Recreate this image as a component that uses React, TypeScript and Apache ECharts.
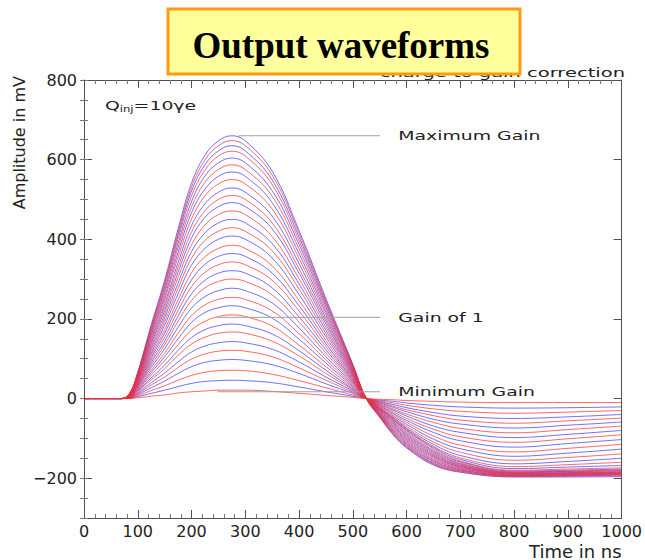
import React, { useEffect, useRef } from "react";
import * as echarts from "echarts";

const W = 645;
const H = 560;

// Sample times (ns) shared by every waveform
const TIMES = [0, 70, 85, 100, 125, 150, 175, 200, 225, 250, 275, 300, 350, 400, 450, 500, 525, 550, 575, 600, 650, 700, 800, 900, 1000];

// Output amplitude (mV) of each gain setting, from minimum gain (first row) to maximum gain (last row)
const WAVEFORMS = [
  [0, 0, 0, 2, 6, 9, 14, 17, 19, 21, 21, 21, 18, 13, 8, 3, 0, -2, -3, -5, -7, -9, -10, -10, -10],
  [0, 0, 1, 5, 13, 21, 30, 38, 43, 45, 46, 45, 40, 29, 17, 6, 0, -4, -7, -11, -17, -21, -24, -23, -21],
  [0, 0, 1, 7, 20, 32, 46, 58, 66, 70, 71, 70, 61, 45, 27, 9, 0, -6, -11, -17, -26, -32, -37, -34, -30],
  [0, 0, 2, 10, 27, 44, 63, 80, 91, 96, 98, 96, 85, 63, 37, 13, 0, -8, -15, -23, -35, -44, -50, -46, -40],
  [0, 0, 2, 12, 34, 54, 78, 99, 112, 119, 121, 119, 105, 77, 46, 16, 0, -9, -19, -28, -43, -54, -62, -56, -49],
  [0, 0, 3, 14, 40, 64, 92, 117, 132, 140, 143, 140, 124, 92, 54, 19, 0, -11, -22, -33, -52, -64, -74, -67, -59],
  [0, 0, 3, 17, 47, 75, 108, 137, 154, 164, 167, 164, 144, 107, 63, 22, 0, -13, -26, -39, -60, -75, -86, -78, -69],
  [0, 0, 4, 19, 52, 84, 121, 153, 173, 183, 187, 183, 162, 120, 71, 24, 0, -15, -29, -44, -69, -85, -98, -90, -80],
  [0, 0, 4, 21, 59, 95, 135, 172, 194, 206, 210, 206, 182, 134, 80, 27, 0, -17, -33, -50, -77, -96, -110, -101, -91],
  [0, 0, 5, 23, 65, 105, 150, 191, 216, 228, 233, 228, 202, 149, 89, 30, 0, -18, -37, -55, -85, -106, -122, -113, -103],
  [0, 0, 5, 25, 71, 114, 164, 208, 235, 249, 254, 249, 220, 163, 97, 33, 0, -20, -40, -60, -94, -117, -134, -125, -115],
  [0, 0, 6, 28, 78, 125, 179, 227, 256, 271, 277, 271, 240, 177, 105, 36, 0, -22, -44, -65, -102, -126, -145, -137, -127],
  [0, 0, 6, 30, 84, 135, 194, 246, 278, 294, 300, 294, 260, 192, 114, 39, 0, -23, -47, -70, -109, -135, -155, -148, -139],
  [0, 0, 6, 32, 90, 144, 207, 263, 297, 315, 321, 315, 278, 205, 122, 42, 0, -25, -49, -74, -115, -143, -164, -158, -150],
  [0, 0, 7, 34, 96, 154, 221, 281, 317, 336, 343, 336, 297, 220, 130, 45, 0, -26, -51, -77, -120, -149, -171, -166, -160],
  [0, 0, 7, 36, 102, 164, 235, 298, 337, 357, 364, 357, 315, 233, 138, 47, 0, -26, -53, -79, -123, -153, -176, -172, -168],
  [0, 0, 8, 39, 108, 173, 248, 316, 356, 377, 385, 377, 333, 246, 146, 50, 0, -27, -54, -81, -126, -157, -180, -177, -174],
  [0, 0, 8, 41, 114, 184, 263, 335, 377, 400, 408, 400, 353, 261, 155, 53, 0, -29, -57, -85, -130, -159, -182, -180, -177],
  [0, 0, 9, 43, 120, 193, 277, 352, 397, 420, 429, 420, 371, 275, 163, 56, 0, -30, -60, -88, -133, -162, -184, -182, -179],
  [0, 0, 9, 45, 126, 203, 290, 369, 416, 441, 450, 441, 389, 288, 171, 59, 0, -32, -62, -91, -136, -164, -185, -183, -181],
  [0, 0, 9, 47, 132, 212, 304, 386, 436, 462, 471, 462, 407, 301, 179, 61, 0, -33, -65, -94, -139, -166, -186, -184, -182],
  [0, 0, 10, 49, 138, 221, 317, 403, 455, 482, 492, 482, 426, 315, 187, 64, 0, -35, -68, -97, -142, -168, -187, -186, -184],
  [0, 0, 10, 51, 143, 230, 329, 418, 472, 500, 510, 500, 441, 326, 194, 66, 0, -36, -70, -100, -144, -170, -188, -187, -185],
  [0, 0, 11, 53, 148, 238, 341, 434, 489, 518, 529, 518, 458, 339, 201, 69, 0, -37, -73, -103, -147, -171, -189, -188, -186],
  [0, 0, 11, 55, 154, 248, 355, 451, 509, 539, 550, 539, 476, 352, 209, 72, 0, -39, -75, -106, -150, -173, -190, -189, -187],
  [0, 0, 11, 57, 159, 256, 367, 467, 526, 558, 569, 558, 492, 364, 216, 74, 0, -40, -78, -109, -153, -175, -191, -190, -188],
  [0, 0, 12, 59, 164, 264, 379, 481, 543, 575, 587, 575, 508, 376, 223, 76, 0, -42, -80, -112, -156, -177, -192, -191, -189],
  [0, 0, 12, 60, 169, 272, 390, 495, 559, 592, 604, 592, 522, 387, 230, 79, 0, -43, -82, -115, -158, -179, -193, -192, -190],
  [0, 0, 12, 62, 174, 279, 401, 509, 574, 609, 621, 609, 537, 397, 236, 81, 0, -44, -85, -117, -161, -180, -194, -193, -191],
  [0, 0, 13, 64, 178, 286, 410, 521, 587, 622, 635, 622, 549, 406, 241, 83, 0, -45, -87, -120, -163, -182, -195, -194, -192],
  [0, 0, 13, 65, 181, 292, 418, 531, 599, 635, 648, 635, 561, 415, 246, 84, 0, -46, -89, -122, -165, -184, -196, -195, -194],
  [0, 0, 13, 66, 185, 297, 426, 541, 611, 647, 660, 647, 571, 422, 251, 86, 0, -47, -91, -124, -167, -185, -197, -197, -196],
];

// Labelled gain levels with their leader lines
const LEADER_NAMES = ["Maximum Gain", "Gain of 1", "Minimum Gain"];
const LEADER_LEVELS = [660, 204, 17];
const LEADER_STARTS = [288, 248, 248];
const LEADER_END = 551;

const Y_TICKS = [-200, 0, 200, 400, 600, 800];
const INJECTED_AT = [39, 737];

const RED = "rgba(255, 45, 45, 0.72)";
const BLUE = "rgba(55, 55, 255, 0.72)";
const AXIS = "#505050";
const FONT = "DejaVu Sans";

function majorY(position: "left" | "right", labels: boolean) {
  return {
    type: "value",
    position,
    min: -300,
    max: 800,
    axisLine: { show: true, onZero: false, lineStyle: { color: AXIS, width: 1 } },
    axisTick: { show: true, inside: true, length: 8, customValues: Y_TICKS, lineStyle: { color: AXIS } },
    axisLabel: {
      show: labels,
      customValues: Y_TICKS,
      formatter: (v: number) => String(v).replace("-", "\u2212"),
      fontSize: 16,
      fontFamily: FONT,
      color: "#222",
      margin: 7,
    },
    splitLine: { show: false },
  };
}

function minorY(position: "left" | "right") {
  return {
    type: "value",
    position,
    min: -300,
    max: 800,
    interval: 50,
    axisLine: { show: false },
    axisTick: { show: true, inside: true, length: 4, lineStyle: { color: "#777" } },
    axisLabel: { show: false },
    splitLine: { show: false },
  };
}

function timeAxis(position: "bottom" | "top", labels: boolean) {
  return {
    type: "value",
    position,
    min: 0,
    max: 1000,
    interval: 100,
    axisLine: { show: true, onZero: false, lineStyle: { color: AXIS, width: 1 } },
    axisTick: { show: true, inside: true, length: 8, lineStyle: { color: AXIS } },
    minorTick: { show: true, splitNumber: 5, length: 4, lineStyle: { color: "#777" } },
    axisLabel: {
      show: labels,
      formatter: (v: number) => String(v),
      fontSize: 16,
      fontFamily: FONT,
      color: "#222",
      margin: 5,
    },
    splitLine: { show: false },
    name: labels ? "Time in ns" : "",
    nameLocation: "end",
    nameGap: 0,
    nameTextStyle: {
      fontSize: 18,
      fontFamily: FONT,
      color: "#222",
      align: "right",
      verticalAlign: "top",
      padding: [24, 0, 0, 0],
    },
  };
}

export default function App() {
  const ref = useRef<HTMLDivElement>(null);

  useEffect(() => {
    const chart = echarts.init(ref.current!, null, { renderer: "svg" });

    const waveSeries = WAVEFORMS.map((row, i) => ({
      type: "line",
      name: "gain " + (i + 1),
      xAxisIndex: 0,
      yAxisIndex: 0,
      data: TIMES.map((t, k) => [t, row[k]]),
      smooth: 0.4,
      symbol: "none",
      silent: true,
      lineStyle: { width: 1, color: i % 2 === 0 ? RED : BLUE },
      z: i % 2 === 0 ? 3 : 2,
    }));
    // blue traces first, red traces drawn over them
    const ordered = [
      ...waveSeries.filter((_, i) => i % 2 === 1),
      ...waveSeries.filter((_, i) => i % 2 === 0),
    ];

    const leaderSeries = LEADER_NAMES.map((name, i) => ({
      type: "line",
      name,
      xAxisIndex: 0,
      yAxisIndex: 0,
      data: [
        [LEADER_STARTS[i], LEADER_LEVELS[i]],
        [LEADER_END, LEADER_LEVELS[i]],
      ],
      symbol: "none",
      silent: true,
      lineStyle: { width: 1, color: "#a0a0a0" },
      z: 4,
    }));

    chart.setOption({
      animation: false,
      backgroundColor: "#ffffff",
      grid: { left: 84, right: 20, top: 80, bottom: 40, containLabel: false },
      xAxis: [timeAxis("bottom", true), timeAxis("top", false)],
      yAxis: [majorY("left", true), minorY("left"), majorY("right", false), minorY("right")],
      series: [...leaderSeries, ...ordered],
    });

    const toPx = (p: number[]) => chart.convertToPixel({ seriesIndex: 0 }, p) as number[];

    const leaderTexts = LEADER_NAMES.map((name, i) => {
      const p = toPx([LEADER_END, LEADER_LEVELS[i]]);
      return {
        type: "text",
        x: p[0] + 18,
        y: p[1],
        scaleX: 1.45,
        z: 20,
        style: {
          text: name,
          fontSize: 13,
          fontFamily: FONT,
          fill: "#222",
          align: "left",
          verticalAlign: "middle",
        },
      };
    });

    const q = toPx(INJECTED_AT);

    chart.setOption({
      graphic: [
        ...leaderTexts,
        {
          type: "text",
          x: q[0],
          y: q[1],
          scaleX: 1.45,
          z: 20,
          style: {
            text: "{a|Q}{b|inj}{a|=10\u03b3e}",
            fill: "#222",
            align: "left",
            verticalAlign: "middle",
            rich: {
              a: { fontSize: 13, fontFamily: FONT, fill: "#222", lineHeight: 16 },
              b: { fontSize: 8, fontFamily: FONT, fill: "#222", verticalAlign: "bottom", lineHeight: 16, padding: [5, 0, 0, 0] },
            },
          },
        },
        {
          type: "text",
          x: 19,
          y: 76,
          rotation: Math.PI / 2,
          z: 20,
          style: {
            text: "Amplitude in mV",
            fontSize: 16,
            fontFamily: FONT,
            fill: "#222",
            align: "right",
            verticalAlign: "middle",
          },
        },
        {
          type: "text",
          x: 625,
          y: 73,
          scaleX: 1.5,
          z: 20,
          style: {
            text: "charge to gain correction",
            fontSize: 13,
            fontFamily: FONT,
            fill: "#222",
            align: "right",
            verticalAlign: "middle",
          },
        },
        {
          type: "rect",
          z: 30,
          shape: { x: 168, y: 9, width: 352, height: 65 },
          style: { fill: "#ffff9c", stroke: "#ff9a10", lineWidth: 3 },
        },
        {
          type: "text",
          x: 341,
          y: 45,
          z: 31,
          style: {
            text: "Output waveforms",
            fontSize: 37,
            fontWeight: "bold",
            fontFamily: "Liberation Serif",
            fill: "#000",
            align: "center",
            verticalAlign: "middle",
          },
        },
      ],
    });

    return () => chart.dispose();
  }, []);

  return (
    <div
      ref={ref}
      style={{ position: "fixed", left: 0, top: 0, width: W, height: H, background: "#fff" }}
    />
  );
}
